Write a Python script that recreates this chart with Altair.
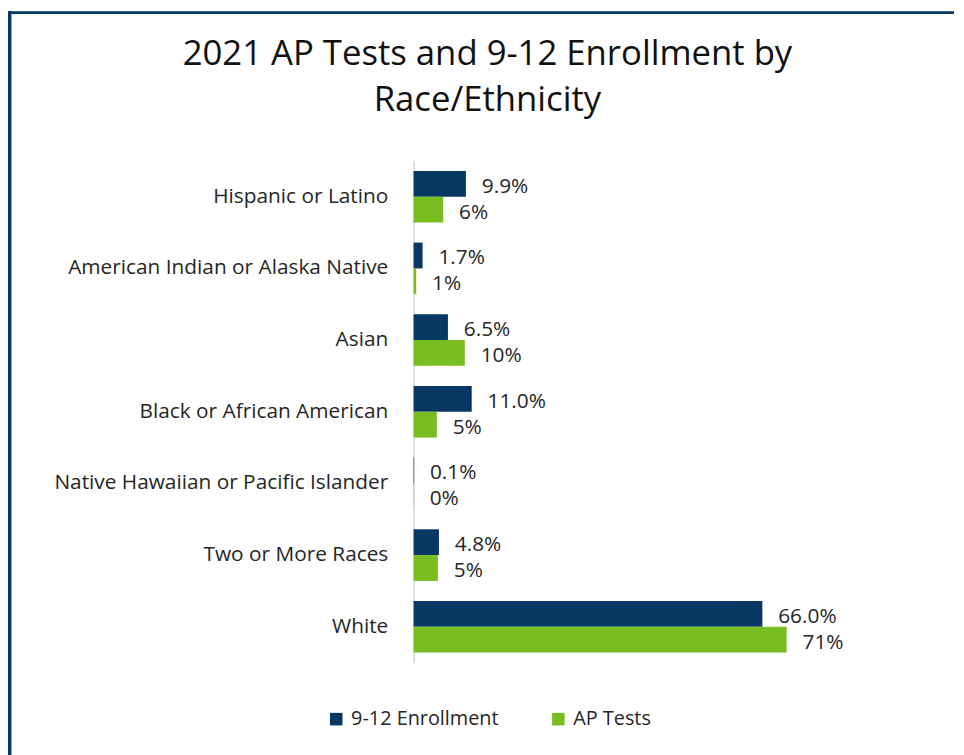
import altair as alt
import pandas as pd

categories = ["Hispanic or Latino", "American Indian or Alaska Native", "Asian",
              "Black or African American", "Native Hawaiian or Pacific Islander",
              "Two or More Races", "White"]
enrollment = [9.9, 1.7, 6.5, 11.0, 0.1, 4.8, 66.0]
ap_tests = [5.6, 0.5, 9.7, 4.4, 0.05, 4.6, 70.6]
enroll_labels = ["9.9%", "1.7%", "6.5%", "11.0%", "0.1%", "4.8%", "66.0%"]
ap_labels = ["6%", "1%", "10%", "5%", "0%", "5%", "71%"]
series = ["9-12 Enrollment", "AP Tests"]
colors = ["#073763", "#78BE21"]

rows = []
for c, v, l in zip(categories, enrollment, enroll_labels):
    rows.append({"cat": c, "series": series[0], "value": v, "label": l})
for c, v, l in zip(categories, ap_tests, ap_labels):
    rows.append({"cat": c, "series": series[1], "value": v, "label": l})
df = pd.DataFrame(rows)

FONT = "Open Sans"
TXT = "#262626"

y_enc = alt.Y("cat:N", sort=categories,
              scale=alt.Scale(paddingInner=0.28, paddingOuter=0.14),
              axis=alt.Axis(title=None, ticks=False, labelPadding=26, labelFontSize=21,
                            labelColor=TXT, labelFont=FONT, labelLimit=0,
                            domainColor="#d9d9d9", domainWidth=1.5, grid=False))
x_enc = alt.X("value:Q", scale=alt.Scale(domain=[0, 79]), axis=None)
yoff = alt.YOffset("series:N", sort=series, scale=alt.Scale(domain=series, paddingInner=0, paddingOuter=0))

base = alt.Chart(df)
bars = base.mark_bar().encode(
    y=y_enc, x=x_enc, yOffset=yoff,
    color=alt.Color("series:N", scale=alt.Scale(domain=series, range=colors),
                    legend=alt.Legend(title=None, orient="none", legendX=-88, legendY=553,
                                      direction="horizontal", symbolType="square",
                                      symbolSize=160, labelFontSize=20, labelFont=FONT,
                                      labelColor=TXT, columnPadding=50, labelOffset=5,
                                      symbolStrokeWidth=0))
)
labels = base.mark_text(align="left", baseline="middle", dx=16, dy=3,
                        fontSize=21, font=FONT, color=TXT).encode(
    y=y_enc, x=x_enc, yOffset=yoff, text="label:N"
)

frame_data = alt.Data(values=[{"k": 1}])
top_border = alt.Chart(frame_data).mark_rule(color="#073763", strokeWidth=3).encode(
    x=alt.value(-409), x2=alt.value(545), y=alt.value(-149.5))
left_border = alt.Chart(frame_data).mark_rule(color="#073763", strokeWidth=4).encode(
    x=alt.value(-407.5), y=alt.value(-151), y2=alt.value(600))

chart = alt.layer(bars, labels, top_border, left_border).properties(
    width=421, height=506,
    padding={"left": 409, "top": 151, "right": 126, "bottom": 90},
    autosize=alt.AutoSizeParams(type="none"),
    background="white",
    title=alt.TitleParams(["2021 AP Tests and 9-12 Enrollment by", "Race/Ethnicity"],
                          anchor="middle", frame="group", dx=-136, dy=148, fontSize=35,
                          font=FONT, fontWeight="normal", color="#111111",
                          lineHeight=47, offset=38)
).configure_view(stroke=None)

chart.save("out.html", embed_options={"renderer": "svg", "actions": False})
